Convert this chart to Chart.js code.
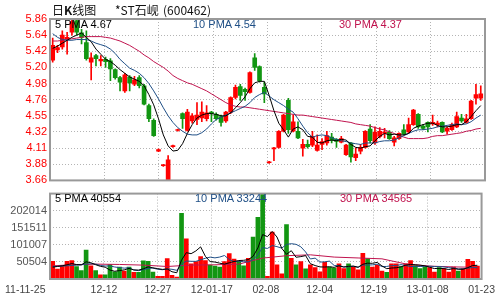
<!DOCTYPE html>
<html>
<head>
<meta charset="utf-8">
<script src="https://cdn.jsdelivr.net/npm/chart.js@4/dist/chart.umd.min.js"></script>
<style>
body { margin: 0; background: #fff; }
#wrap { position: relative; width: 500px; height: 300px; overflow: hidden; font-family: "Liberation Sans", Arial, sans-serif; }
canvas { position: absolute; left: 0; }
.t { position: absolute; font-size: 11px; line-height: 12px; white-space: nowrap; }
.title { position: absolute; top: 3px; font-size: 12px; line-height: 14px; font-family: "Noto Sans CJK SC", sans-serif; color: #111; white-space: nowrap; }
</style>
</head>
<body>
<div id="wrap">
	<canvas id="price" width="500" height="190" style="top:0"></canvas>
	<canvas id="vol" width="500" height="116" style="top:184px"></canvas>
	<span class="title" style="left:52px">日<b>K</b>线图</span>
	<span class="title" style="left:115px">*ST石岘</span>
	<span class="title" style="left:163px">(600462)</span>
	<span class="t" style="left:55px;top:18px;color:#000">5 PMA 4.67</span>
	<span class="t" style="left:193px;top:18px;color:#1f4f86">10 PMA 4.54</span>
	<span class="t" style="left:339px;top:18px;color:#c0134e">30 PMA 4.37</span>
	<span class="t" style="left:55px;top:192px;color:#000">5 PMA 40554</span>
	<span class="t" style="left:195px;top:192px;color:#1f4f86">10 PMA 33244</span>
	<span class="t" style="left:340px;top:192px;color:#c0134e">30 PMA 34565</span>
</div>
<script>
// daily candles, oldest first
const dateLabels = ['11-11-25', '12-12', '12-27', '12-01-17', '02-08', '12-04', '12-19', '13-01-08', '01-23'];
const priceTicks = ['3.66', '3.88', '4.11', '4.32', '4.55', '4.76', '4.98', '5.20', '5.42', '5.64', '5.86'];
const volTicks = [50504, 101007, 151511, 202014];

const opens = [5.30,5.44,5.48,5.58,5.68,5.84,5.67,5.54,5.27,5.36,
	5.29,5.31,5.29,5.17,5.06,4.88,5.07,4.97,5.06,4.95,
	4.68,4.48,4.06,3.86,3.67,4.12,4.34,4.57,4.34,4.47,
	4.49,4.51,4.50,4.59,4.56,4.53,4.47,4.59,4.79,4.94,
	4.90,4.86,5.33,5.21,4.93,3.90,4.09,4.11,4.33,4.75,
	4.33,4.33,4.10,4.15,4.14,4.07,4.15,4.17,4.25,4.22,
	4.18,4.01,4.17,3.97,4.06,4.11,4.36,4.17,4.26,4.30,
	4.32,4.18,4.23,4.35,4.32,4.42,4.56,4.40,4.45,4.43,
	4.42,4.45,4.33,4.35,4.39,4.51,4.45,4.50,4.78,4.78];
const closes = [5.50,5.47,5.64,5.61,5.82,5.68,5.61,5.32,5.33,5.32,
	5.31,5.28,5.18,5.06,5.00,5.10,4.99,5.03,4.95,4.70,
	4.50,4.27,4.08,3.87,3.94,4.13,4.35,4.50,4.59,4.54,
	4.55,4.59,4.58,4.57,4.50,4.45,4.59,4.79,4.93,4.82,
	4.87,5.13,5.20,5.02,4.84,3.91,4.10,4.33,4.55,4.35,
	4.46,4.24,4.15,4.12,4.26,4.14,4.19,4.27,4.21,4.19,
	4.23,4.14,3.98,4.02,4.11,4.33,4.20,4.32,4.33,4.32,
	4.23,4.24,4.30,4.29,4.42,4.62,4.39,4.37,4.39,4.45,
	4.44,4.32,4.37,4.42,4.53,4.47,4.50,4.74,4.83,4.84];
const highs = [5.60,5.50,5.70,5.68,5.86,5.86,5.72,5.70,5.40,5.38,
	5.36,5.34,5.32,5.18,5.08,5.12,5.09,5.08,5.09,4.97,
	4.70,4.50,4.09,3.88,4.00,4.14,4.36,4.58,4.63,4.57,
	4.72,4.73,4.68,4.60,4.58,4.55,4.60,4.80,4.96,4.97,
	4.92,5.14,5.39,5.22,5.00,3.92,4.11,4.34,4.56,4.78,
	4.55,4.46,4.22,4.21,4.33,4.28,4.23,4.33,4.30,4.23,
	4.26,4.15,4.18,4.10,4.15,4.34,4.42,4.39,4.38,4.37,
	4.34,4.26,4.31,4.42,4.51,4.63,4.57,4.42,4.46,4.55,
	4.47,4.46,4.39,4.44,4.59,4.56,4.56,4.75,4.97,4.95];
const lows = [5.27,5.40,5.45,5.38,5.64,5.64,5.52,5.30,5.03,5.22,
	5.22,5.20,5.02,5.04,4.88,4.86,4.88,4.95,4.92,4.69,
	4.46,4.26,4.05,3.85,3.66,4.11,4.33,4.37,4.33,4.44,
	4.42,4.46,4.47,4.46,4.48,4.40,4.45,4.57,4.77,4.75,
	4.75,4.85,5.16,5.00,4.72,3.89,3.93,4.10,4.32,4.30,
	4.32,4.23,3.99,4.10,4.12,4.06,4.08,4.14,4.17,4.11,
	4.17,4.00,3.91,3.93,4.02,4.10,4.17,4.15,4.24,4.24,
	4.22,4.13,4.22,4.28,4.30,4.41,4.37,4.35,4.32,4.41,
	4.39,4.31,4.29,4.34,4.38,4.45,4.44,4.49,4.70,4.75];
const volumes = [52400,29100,40000,52400,54400,36900,25200,85400,38800,25200,
	12600,12600,42700,21400,35000,23300,35000,19400,19400,53400,
	52400,20400,7800,7800,60200,10700,5800,194200,118500,44700,
	51500,66000,54400,40800,37900,35000,51500,74800,59200,52400,
	38800,61200,124300,182500,250000,7800,138900,41800,15500,161200,
	61200,41800,51500,30100,41800,34000,21400,49500,35000,32000,
	44700,31100,44700,36900,27200,75700,60200,35000,40800,23300,
	19400,44700,44700,36900,44700,54400,39800,31100,35000,34000,
	20400,34000,31100,20400,35000,23300,31100,58000,52000,38000];

// moving average lines as they appear on the chart
const ma5 = [5.46,5.49,5.53,5.57,5.61,5.64,5.67,5.61,5.55,5.45,
	5.38,5.31,5.28,5.23,5.17,5.12,5.07,5.04,5.01,4.95,
	4.83,4.69,4.50,4.28,4.13,4.06,4.07,4.16,4.30,4.42,
	4.51,4.55,4.57,4.57,4.56,4.54,4.54,4.58,4.65,4.72,
	4.80,4.91,4.99,5.01,5.01,4.82,4.61,4.44,4.35,4.25,
	4.36,4.39,4.35,4.26,4.25,4.18,4.17,4.20,4.21,4.20,
	4.22,4.21,4.15,4.11,4.10,4.12,4.13,4.20,4.26,4.30,
	4.28,4.29,4.28,4.28,4.30,4.37,4.40,4.42,4.44,4.44,
	4.41,4.39,4.39,4.40,4.42,4.42,4.46,4.53,4.61,4.68];
const ma10 = [5.66,5.61,5.58,5.57,5.57,5.58,5.58,5.58,5.56,5.53,
	5.51,5.49,5.45,5.39,5.31,5.25,5.19,5.16,5.12,5.06,
	4.98,4.88,4.77,4.65,4.54,4.45,4.38,4.33,4.29,4.28,
	4.28,4.31,4.36,4.43,4.49,4.52,4.55,4.58,4.61,4.64,
	4.67,4.72,4.79,4.83,4.86,4.81,4.76,4.72,4.68,4.63,
	4.59,4.50,4.40,4.31,4.25,4.27,4.28,4.27,4.24,4.22,
	4.20,4.19,4.17,4.16,4.15,4.17,4.17,4.17,4.19,4.20,
	4.20,4.21,4.24,4.27,4.30,4.33,4.35,4.35,4.36,4.37,
	4.39,4.40,4.41,4.42,4.43,4.42,4.43,4.46,4.51,4.55];
const ma30 = [5.56,5.56,5.57,5.58,5.59,5.60,5.61,5.62,5.62,5.62,
	5.62,5.61,5.60,5.58,5.56,5.53,5.50,5.46,5.42,5.37,
	5.33,5.28,5.24,5.20,5.15,5.09,5.05,5.02,4.99,4.97,
	4.94,4.91,4.88,4.84,4.80,4.76,4.72,4.69,4.67,4.66,
	4.66,4.65,4.64,4.63,4.62,4.61,4.60,4.59,4.58,4.57,
	4.56,4.55,4.55,4.54,4.53,4.52,4.51,4.50,4.49,4.48,
	4.47,4.46,4.45,4.43,4.42,4.41,4.40,4.38,4.36,4.35,
	4.32,4.30,4.27,4.25,4.23,4.23,4.23,4.23,4.24,4.26,
	4.27,4.27,4.28,4.29,4.30,4.31,4.33,4.34,4.36,4.37];
const volMa5 = [35000,37000,39000,42000,45700,42600,41800,50900,48100,42300,
	37400,34900,26400,22900,24900,27000,31500,26800,26400,30100,
	35900,33000,30700,28400,29700,21400,18500,55700,77900,74800,
	82900,95000,67000,51500,50100,46800,43900,48000,51700,54600,
	55300,57300,67200,91800,131400,125200,140700,124200,90800,73000,
	83700,64300,66200,69200,45300,39800,35800,35400,36300,34400,
	39000,35400,37300,38300,34800,43700,46800,46400,49100,38700,
	30500,32400,33200,35900,41000,42900,42000,40800,38900,34800,
	30900,31500,30700,28000,30900,28800,28800,33600,39900,40500];
const volMa10 = [37000,37500,38000,39000,40000,41000,42000,44000,45000,44000,
	40000,38400,38600,35500,33600,32200,33200,26600,24700,27500,
	31500,32200,28800,27400,29900,28700,25700,43200,53100,52300,
	52200,56700,61400,64700,62500,64900,69500,57500,51600,52400,
	51100,50600,57600,71800,93000,90300,99000,95700,91300,102200,
	104400,102500,95200,80000,59200,61800,50000,50800,52800,39800,
	39400,35600,36300,37300,34600,41400,41100,41900,43700,36700,
	37100,39600,39800,42500,39800,36700,37200,37000,37400,37900,
	36900,36700,35800,33400,32800,29800,30100,32100,33900,33200];
// 30 day volume average, read every 5 bars
const volMa30Bars = [0,4,9,14,19,24,29,34,39,44,49,54,59,64,69,74,79,84,89];
const volMa30 = [39000,42000,44000,43000,41000,37000,41200,42000,44000,61800,68900,71500,64800,62200,59600,44500,38100,35800,34600];

const RED = '#ff0000';
const GREEN = '#129612';
const BLUE = '#1f4f86';
const CRIMSON = '#c0134e';
const X_MIN = -0.56, X_MAX = 89.88;
const P_MIN = 3.66, P_MAX = 5.86;
const V_MAX = 252518;

Chart.defaults.font.family = '"Liberation Sans", Arial, sans-serif';
Chart.defaults.font.size = 11;

const idx = closes.map((c, i) => i);
const barColor = closes.map((c, i) => c >= opens[i] ? RED : GREEN);

const frame = {
	id: 'frame',
	afterDraw(chart) {
		const {ctx, chartArea: a} = chart;
		ctx.save();
		ctx.strokeStyle = '#999';
		ctx.lineWidth = 2;
		ctx.strokeRect(a.left, a.top, a.right - a.left, a.bottom - a.top);
		ctx.restore();
	}
};

function xAxis(showLabels) {
	return {
		type: 'linear',
		min: X_MIN,
		max: X_MAX,
		offset: false,
		afterBuildTicks: s => {
			s.ticks = dateLabels.map((l, k) => ({ value: X_MIN + k * (X_MAX - X_MIN) / (dateLabels.length - 1) }));
		},
		afterFit: s => { s.height = showLabels ? 21 : 0; },
		ticks: {
			display: showLabels,
			autoSkip: false,
			maxRotation: 0,
			padding: 5,
			color: '#444',
			font: { size: 10.5 },
			// first date sits left of its gridline in the original, pad it on the right
			callback: (v, i) => i === 0 ? dateLabels[i] + ' '.repeat(17) : dateLabels[i]
		},
		grid: { color: '#b4b4b4', drawTicks: false, offset: false },
		border: { display: false, dash: [1, 2] }
	};
}

function line(data, color) {
	return { type: 'line', data: data, borderColor: color, borderWidth: 1, pointRadius: 0, fill: false, order: 0 };
}

const baseOpts = {
	responsive: false,
	animation: false,
	events: [],
	plugins: { legend: { display: false }, tooltip: { enabled: false } }
};

new Chart(document.getElementById('price').getContext('2d'), {
	type: 'bar',
	data: {
		datasets: [
			line(idx.map(i => ({ x: i, y: ma5[i] })), '#000'),
			line(idx.map(i => ({ x: i, y: ma10[i] })), BLUE),
			line(idx.map(i => ({ x: i, y: ma30[i] })), CRIMSON),
			{
				data: idx.map(i => ({ x: i, y: [opens[i], closes[i]] })),
				backgroundColor: barColor,
				barThickness: 4,
				minBarLength: 1,
				grouped: false,
				order: 1
			},
			{
				data: idx.map(i => ({ x: i, y: [lows[i], highs[i]] })),
				backgroundColor: barColor,
				barThickness: 1,
				grouped: false,
				order: 2
			}
		]
	},
	options: {
		...baseOpts,
		layout: { padding: { left: 0, right: 15, top: 19, bottom: 7 } },
		scales: {
			x: xAxis(false),
			y: {
				min: P_MIN,
				max: P_MAX,
				afterBuildTicks: s => {
					s.ticks = priceTicks.map((t, k) => ({ value: P_MIN + k * (P_MAX - P_MIN) / (priceTicks.length - 1) }));
				},
				afterFit: s => { s.width = 50; },
				ticks: { color: RED, padding: 3, callback: (v, i) => priceTicks[i] },
				grid: { color: '#b4b4b4', drawTicks: false },
				border: { display: false, dash: [1, 2] }
			}
		}
	},
	plugins: [frame]
});

new Chart(document.getElementById('vol').getContext('2d'), {
	type: 'bar',
	data: {
		datasets: [
			line(idx.map(i => ({ x: i, y: volMa5[i] })), '#000'),
			line(idx.map(i => ({ x: i, y: volMa10[i] })), BLUE),
			line(volMa30Bars.map((b, k) => ({ x: b, y: volMa30[k] })), CRIMSON),
			{
				data: idx.map(i => ({ x: i, y: volumes[i] })),
				backgroundColor: barColor,
				barThickness: 4,
				grouped: false,
				order: 1
			}
		]
	},
	options: {
		...baseOpts,
		layout: { padding: { left: 0, right: 15, top: 7, bottom: 0 } },
		scales: {
			x: xAxis(true),
			y: {
				min: 0,
				max: V_MAX,
				afterBuildTicks: s => { s.ticks = volTicks.map(v => ({ value: v })); },
				afterFit: s => { s.width = 50; },
				ticks: { color: '#555', padding: 3, callback: (v, i) => String(volTicks[i]) },
				grid: { color: '#b4b4b4', drawTicks: false },
				border: { display: false, dash: [1, 2] }
			}
		}
	},
	plugins: [frame]
});
</script>
</body>
</html>
